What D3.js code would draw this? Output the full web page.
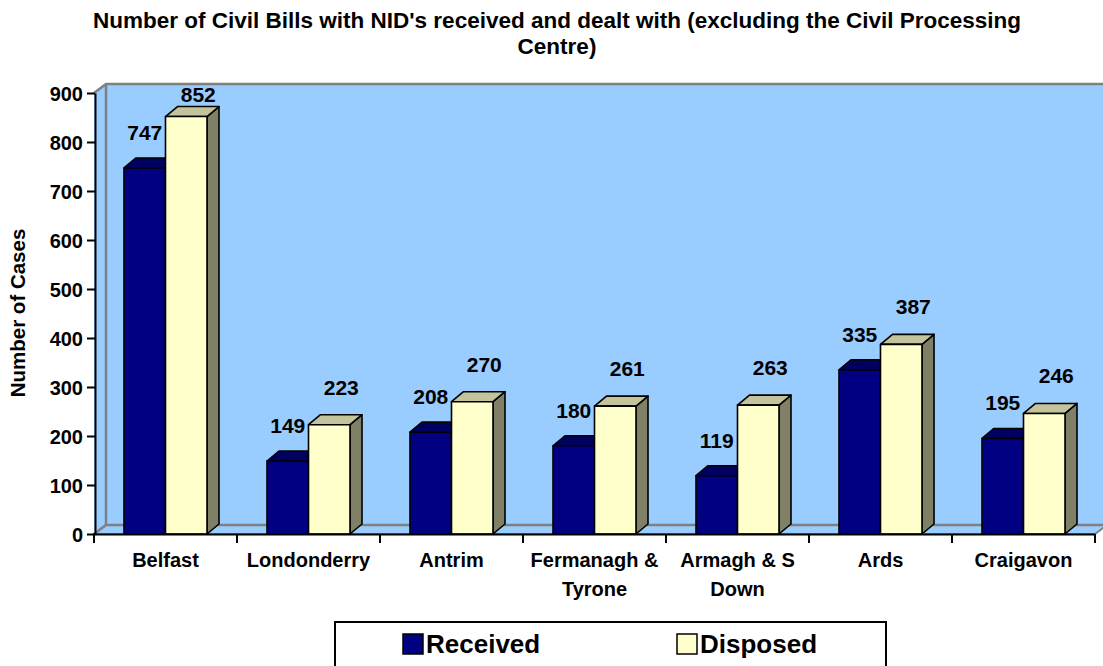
<!DOCTYPE html>
<html><head><meta charset="utf-8">
<script src="https://cdn.jsdelivr.net/npm/d3@7"></script>
<style>
body{margin:0;background:#fff}
svg{display:block}
text{font-family:"Liberation Sans",Arial,sans-serif;font-weight:bold;fill:#000}
</style>
</head><body>
<svg id="chart" width="1103" height="666"></svg>
<script>
// ---- data ----
const categories = ["Belfast", "Londonderry", "Antrim", "Fermanagh & Tyrone", "Armagh & S Down", "Ards", "Craigavon"];
const categoryLines = [["Belfast"], ["Londonderry"], ["Antrim"], ["Fermanagh &", "Tyrone"], ["Armagh & S", "Down"], ["Ards"], ["Craigavon"]];
const received = [747, 149, 208, 180, 119, 335, 195];
const disposed = [852, 223, 270, 261, 263, 387, 246];
const seriesNames = ["Received", "Disposed"];
const yTicks = [0, 100, 200, 300, 400, 500, 600, 700, 800, 900];
const titleLines = ["Number of Civil Bills with NID's received and dealt with (excluding the Civil Processing", "Centre)"];
const yTitle = "Number of Cases";

// ---- layout ----
const svg = d3.select("#chart");
const x0 = 94, x1 = 1095, yBase = 534, yTop = 93;
const y = d3.scaleLinear().domain([0, 900]).range([yBase, yTop]);
const x = d3.scaleBand().domain(categories).range([x0, x1]);
const bw = 41.5;
const bdx = 12, bdy = -10;   // bar depth
const wdx = 12, wdy = -9;    // wall depth
const wallGray = "#808080", wallFill = "#99CCFF";
const colors = {
  Received: {front: "#000080", top: "#000060", side: "#000050"},
  Disposed: {front: "#FFFFCC", top: "#C4C49C", side: "#808066"}
};

// walls
const g = svg.append("g");
g.append("polygon")
  .attr("points", [[x0 + wdx, y(900) + wdy], [1110, y(900) + wdy], [1110, yBase + wdy], [x0 + wdx, yBase + wdy]].join(" "))
  .attr("fill", wallFill).attr("stroke", "none");
g.append("polygon")
  .attr("points", [[x0, y(900)], [x0 + wdx, y(900) + wdy], [x0 + wdx, yBase + wdy], [x0, yBase]].join(" "))
  .attr("fill", wallFill).attr("stroke", "none");
g.append("polygon")
  .attr("points", [[x0, yBase], [x0 + wdx, yBase + wdy], [x1 + wdx, yBase + wdy], [x1, yBase]].join(" "))
  .attr("fill", wallFill).attr("stroke", wallGray).attr("stroke-width", 2);
g.append("path")
  .attr("d", `M${x0},${y(900)}L${x0 + wdx},${y(900) + wdy}L1110,${y(900) + wdy}M${x0 + wdx},${y(900) + wdy}L${x0 + wdx},${yBase + wdy}L1110,${yBase + wdy}M${x0},${yBase}L${x0 + wdx},${yBase + wdy}`)
  .attr("fill", "none").attr("stroke", wallGray).attr("stroke-width", 2.5);

// bars
const barData = [];
categories.forEach((c, i) => {
  const start = x(c) + (x.bandwidth() - 2 * bw) / 2;
  barData.push({c, s: "Received", v: received[i], bx: start});
  barData.push({c, s: "Disposed", v: disposed[i], bx: start + bw});
});
const bars = g.selectAll("g.bar").data(barData).join("g").attr("class", "bar")
  .attr("stroke", "#000").attr("stroke-width", 1.6).attr("stroke-linejoin", "round");
bars.append("polygon")
  .attr("points", d => {
    const xl = d.bx + bw, yt = y(d.v);
    return [[xl, yt], [xl + bdx, yt + bdy], [xl + bdx, yBase + bdy], [xl, yBase]].join(" ");
  })
  .attr("fill", d => colors[d.s].side);
bars.append("polygon")
  .attr("points", d => {
    const yt = y(d.v);
    return [[d.bx, yt], [d.bx + bdx, yt + bdy], [d.bx + bw + bdx, yt + bdy], [d.bx + bw, yt]].join(" ");
  })
  .attr("fill", d => colors[d.s].top);
bars.append("rect")
  .attr("x", d => d.bx).attr("y", d => y(d.v))
  .attr("width", bw).attr("height", d => yBase - y(d.v))
  .attr("fill", d => colors[d.s].front);

// value labels (kept inside the plot area)
g.selectAll("text.val").data(barData).join("text").attr("class", "val")
  .attr("x", d => d.bx + bw / 2 + (d.s === "Disposed" ? 12 : 0))
  .attr("y", d => Math.max(y(d.v) - (d.s === "Disposed" ? 30 : 28), yTop + 9))
  .attr("text-anchor", "middle").attr("font-size", 21)
  .text(d => d.v);

// y axis
const yAxis = svg.append("g").attr("transform", `translate(${x0 + 1},0)`)
  .call(d3.axisLeft(y).tickValues(yTicks).tickSize(8).tickSizeOuter(0).tickPadding(4));
yAxis.attr("font-family", null);
yAxis.select(".domain").attr("stroke", "#000").attr("stroke-width", 2);
yAxis.selectAll(".tick line").attr("stroke", "#000").attr("stroke-width", 2);
yAxis.selectAll(".tick text").attr("font-size", 20).attr("dy", "0.36em");

// x axis
const xa = svg.append("g");
xa.append("line").attr("x1", x0 - 1).attr("x2", x1).attr("y1", yBase + 0.5).attr("y2", yBase + 0.5)
  .attr("stroke", "#000").attr("stroke-width", 2);
const bounds = categories.map(c => x(c)).concat([x1]);
xa.selectAll("line.tk").data(bounds).join("line").attr("class", "tk")
  .attr("x1", d => d).attr("x2", d => d).attr("y1", yBase).attr("y2", yBase + 9)
  .attr("stroke", "#000").attr("stroke-width", 2);
xa.selectAll("text.cat").data(categories).join("text").attr("class", "cat")
  .attr("text-anchor", "middle").attr("font-size", 20)
  .attr("transform", c => `translate(${x(c) + x.bandwidth() / 2},567)`)
  .selectAll("tspan").data((c, i) => categoryLines[i]).join("tspan")
  .attr("x", 0).attr("y", (d, j) => j * 29).text(d => d);

// y title
svg.append("text").attr("transform", "translate(25,313) rotate(-90)")
  .attr("text-anchor", "middle").attr("font-size", 20.5).text(yTitle);

// title
svg.append("g").selectAll("text").data(titleLines).join("text")
  .attr("x", 557).attr("y", (d, i) => 28 + i * 26)
  .attr("text-anchor", "middle").attr("font-size", 22.5).text(d => d);

// legend
const lg = svg.append("g");
lg.append("rect").attr("x", 335).attr("y", 622).attr("width", 551).attr("height", 60)
  .attr("fill", "#fff").attr("stroke", "#000").attr("stroke-width", 2);
const legX = [403, 677];
const items = lg.selectAll("g.it").data(seriesNames).join("g").attr("class", "it")
  .attr("transform", (d, i) => `translate(${legX[i]},634)`);
items.append("rect").attr("width", 20).attr("height", 20)
  .attr("fill", d => colors[d].front).attr("stroke", "#000").attr("stroke-width", 1.5);
items.append("text").attr("x", 23).attr("y", 19).attr("font-size", 26).text(d => d);
</script>
</body></html>
